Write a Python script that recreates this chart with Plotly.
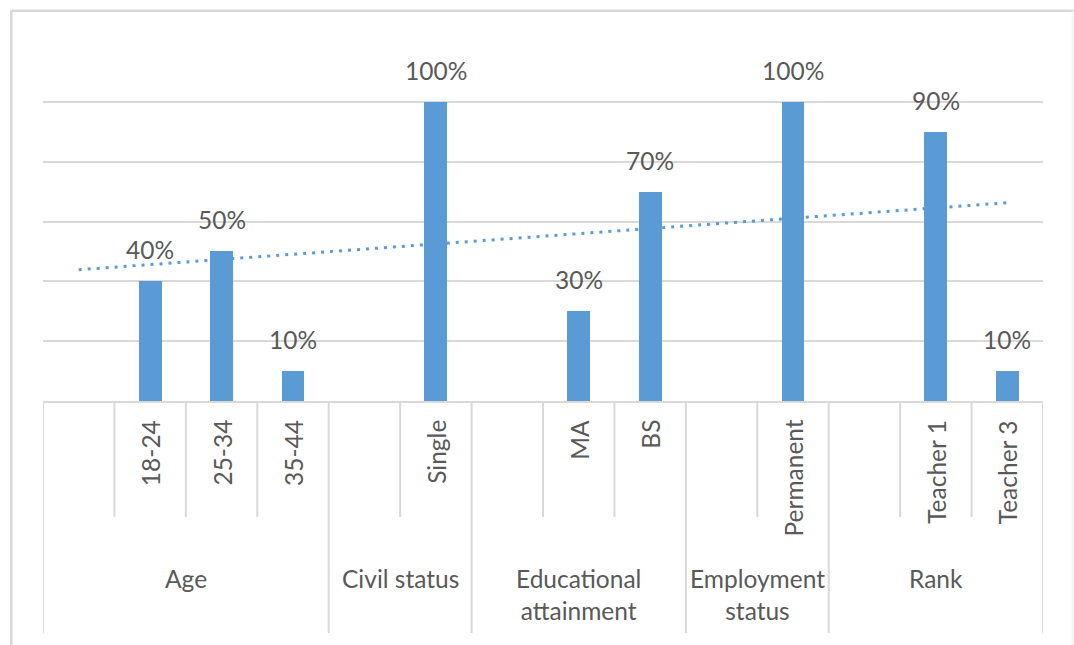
import numpy as np
import plotly.graph_objects as go

# ---- data ----
group_labels = ["Age", "Civil status", "Educational<br>attainment", "Employment<br>status", "Rank"]
group_sizes = [4, 2, 3, 2, 3]
sub_labels = ["", "18-24", "25-34", "35-44",
              "", "Single",
              "", "MA", "BS",
              "", "Permanent",
              "", "Teacher 1", "Teacher 3"]
values = [None, 40, 50, 10,
          None, 100,
          None, 30, 70,
          None, 100,
          None, 90, 10]

BAR = "#5B9BD5"
GRID = "#D9D9D9"
TXT = "#595959"
FONT = "Lato, Calibri, sans-serif"
FS = 24.5

OFF = 0  # body margin removed by post_script below
W, H = 1074, 645
# plot area in screen pixels
SX0, SX1, SY0, SY1 = 43, 1043, 42, 401
L, R, T = SX0 - OFF, W - (SX1 - OFF), SY0 - OFF
B = H - (SY1 - OFF)
PW, PH = W - L - R, H - T - B

def px_y(py):
    return ((SY1 - OFF) - (py - OFF)) / PH

def px_x(px):
    return ((px - OFF) - L) / PW

n = len(sub_labels)
xs = list(range(n))

fig = go.Figure()

bx = [x for x, v in zip(xs, values) if v is not None]
bv = [v for v in values if v is not None]

fig.add_trace(go.Bar(x=bx, y=bv, width=0.32, marker=dict(color=BAR, line=dict(width=0)),
                     showlegend=False, hoverinfo="skip"))

# linear trendline (least squares over the plotted points)
slope, icpt = np.polyfit(bx, bv, 1)
tx = [xs[0], xs[-1]]
ty = [icpt + slope * t for t in tx]
fig.add_trace(go.Scatter(x=tx, y=ty, mode="lines",
                         line=dict(color=BAR, width=3, dash="3px,6px"),
                         showlegend=False, hoverinfo="skip"))

annotations = []
for x, v in zip(bx, bv):
    annotations.append(dict(x=x, y=v, xref="x", yref="y", text=f"{v}%", showarrow=False,
                            yanchor="bottom", xanchor="center", yshift=15,
                            font=dict(family=FONT, size=FS, color=TXT)))

for x, s in zip(xs, sub_labels):
    if s:
        annotations.append(dict(x=x, y=px_y(418), xref="x", yref="paper", text=s, showarrow=False,
                                textangle=-90, yanchor="top", xanchor="center",
                                font=dict(family=FONT, size=FS, color=TXT)))

shapes = []
start = 0
bounds = [-0.5]
for g, size in zip(group_labels, group_sizes):
    center = start + (size - 1) / 2
    annotations.append(dict(x=center, y=px_y(562), xref="x", yref="paper", text=g, showarrow=False,
                            yanchor="top", xanchor="center", align="center",
                            font=dict(family=FONT, size=FS, color=TXT)))
    for k in range(1, size):
        xb = start + k - 0.5
        shapes.append(dict(type="line", xref="x", yref="paper", x0=xb, x1=xb,
                           y0=0, y1=px_y(517), line=dict(color=GRID, width=2)))
    start += size
    bounds.append(start - 0.5)

for xb in bounds:
    shapes.append(dict(type="line", xref="x", yref="paper", x0=xb, x1=xb,
                       y0=0, y1=px_y(633), line=dict(color=GRID, width=2)))

# chart frame (top and left edges visible, faint right edge)
shapes.append(dict(type="line", xref="paper", yref="paper", x0=px_x(11.3), x1=px_x(1090),
                   y0=px_y(10.7), y1=px_y(10.7), line=dict(color=GRID, width=2.5)))
shapes.append(dict(type="line", xref="paper", yref="paper", x0=px_x(11.3), x1=px_x(11.3),
                   y0=px_y(10.7), y1=px_y(660), line=dict(color=GRID, width=2.5)))
shapes.append(dict(type="line", xref="paper", yref="paper", x0=px_x(1072.5), x1=px_x(1072.5),
                   y0=px_y(10.7), y1=px_y(660), line=dict(color="#F2F2F2", width=1.5)))

fig.update_layout(
    width=W, height=H,
    margin=dict(l=L, r=R, t=T, b=B, autoexpand=False),
    paper_bgcolor="white", plot_bgcolor="white",
    xaxis=dict(range=[-0.5, n - 0.5], showticklabels=False, ticks="", showgrid=False,
               zeroline=False, showline=True, linecolor=GRID, linewidth=2, fixedrange=True),
    yaxis=dict(range=[0, 120], dtick=20, tick0=0, showticklabels=False, ticks="",
               showgrid=True, gridcolor=GRID, gridwidth=2, zeroline=False, showline=False,
               fixedrange=True),
    bargap=0,
    annotations=annotations,
    shapes=shapes,
    font=dict(family=FONT, color=TXT),
)

fig.write_html(
    "out.html",
    config={"displayModeBar": False},
    post_script="document.body.style.margin='0';"
                "document.body.style.overflow='hidden';"
                "document.documentElement.style.overflow='hidden';",
)
